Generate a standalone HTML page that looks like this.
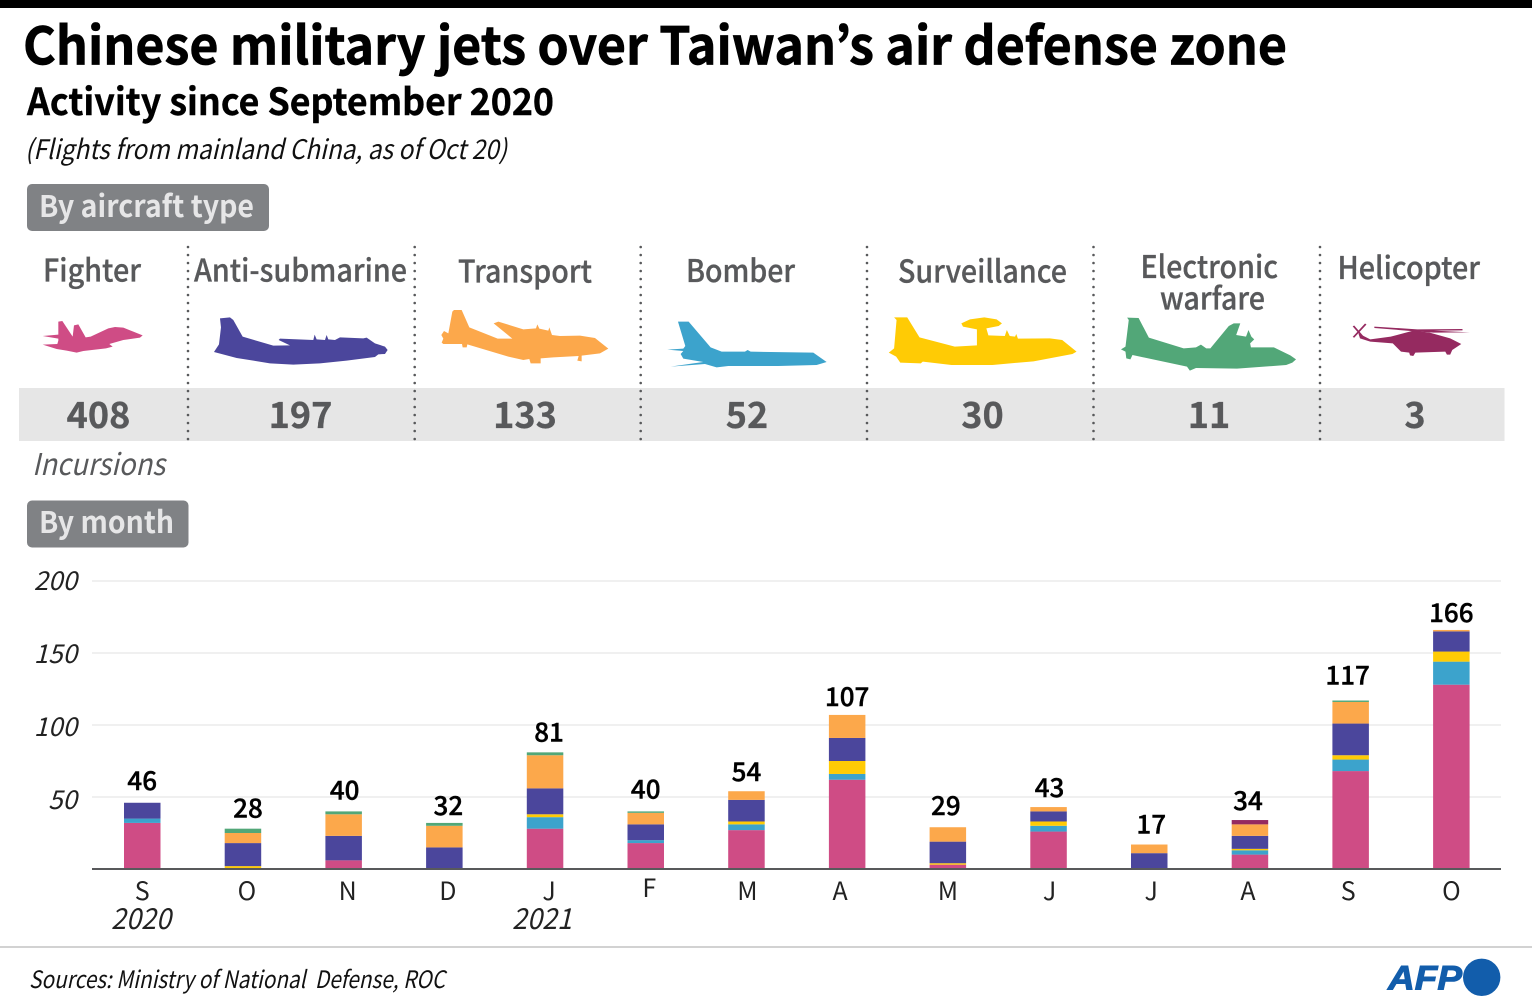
<!DOCTYPE html>
<html lang="en">
<head>
<meta charset="utf-8">
<title>Chinese military jets over Taiwan's air defense zone</title>
<style>
html,body{margin:0;padding:0;background:#fff;width:1532px;height:1008px;overflow:hidden}
svg{display:block}
text{font-family:"Noto Sans CJK JP","Liberation Sans",sans-serif}
.ital{font-style:italic;font-weight:400}
.lab{font-size:31px;font-weight:500;fill:#58595b;stroke:#58595b;stroke-width:.3px}
.num{font-size:36px;font-weight:700;fill:#58595b;stroke:#58595b;stroke-width:.3px;text-anchor:middle}
.tot{font-size:26px;font-weight:500;fill:#000;stroke:#000;stroke-width:.4px;text-anchor:middle}
.tick{font-size:25px;font-weight:400;fill:#222;text-anchor:middle}
.ytick{font-size:26px;font-style:italic;font-weight:400;fill:#222;text-anchor:end}
</style>
</head>
<body>
<svg id="root" xmlns="http://www.w3.org/2000/svg" width="1532" height="1008" viewBox="0 0 1532 1008">
<rect x="0" y="0" width="1532" height="1008" fill="#fff"/>
<rect x="0" y="0" width="1532" height="8" fill="#000"/>

<text x="23" y="64.500" font-size="52" font-weight="700" fill="#000" stroke="#000" stroke-width="0.7" textLength="1264" lengthAdjust="spacingAndGlyphs">Chinese military jets over Taiwan’s air defense zone</text>
<text x="27" y="115" font-size="37" font-weight="700" fill="#000" stroke="#000" stroke-width="0.4" textLength="527" lengthAdjust="spacingAndGlyphs">Activity since September 2020</text>
<text x="25" y="159" font-size="27" class="ital" fill="#111" textLength="482" lengthAdjust="spacingAndGlyphs">(Flights from mainland China, as of Oct 20)</text>

<g>
<rect x="27" y="184" width="242" height="47" rx="5" fill="#808285"/>
<text x="39" y="217" font-size="30" font-weight="700" fill="#e6e6e7" textLength="215" lengthAdjust="spacingAndGlyphs">By aircraft type</text>
</g>

<rect x="19" y="388" width="1485.500" height="53" fill="#e6e6e6"/>

<g stroke="#58595b" stroke-width="2.600" stroke-linecap="round" stroke-dasharray="0 8" fill="none">
<line x1="188" y1="247" x2="188" y2="441"/>
<line x1="414.700" y1="247" x2="414.700" y2="441"/>
<line x1="640.700" y1="247" x2="640.700" y2="441"/>
<line x1="867" y1="247" x2="867" y2="441"/>
<line x1="1093.500" y1="247" x2="1093.500" y2="441"/>
<line x1="1320" y1="247" x2="1320" y2="441"/>
</g>

<text x="43" y="281.500" class="lab" textLength="98" lengthAdjust="spacingAndGlyphs">Fighter</text>
<text x="194" y="281.500" class="lab" textLength="213" lengthAdjust="spacingAndGlyphs">Anti-submarine</text>
<text x="458" y="282.500" class="lab" textLength="134" lengthAdjust="spacingAndGlyphs">Transport</text>
<text x="686" y="282" class="lab" textLength="109" lengthAdjust="spacingAndGlyphs">Bomber</text>
<text x="898" y="282.500" class="lab" textLength="169" lengthAdjust="spacingAndGlyphs">Surveillance</text>
<text x="1140.500" y="278" class="lab" textLength="137.500" lengthAdjust="spacingAndGlyphs">Electronic</text>
<text x="1160" y="309.500" class="lab" textLength="105" lengthAdjust="spacingAndGlyphs">warfare</text>
<text x="1337.500" y="279" class="lab" textLength="142.500" lengthAdjust="spacingAndGlyphs">Helicopter</text>

<g transform="translate(20,240) scale(0.3333)">
<path fill="#cf4c85" d="M68,288 L115,284 L115,245 L127,243 L158,290 L162,256 L175,253 L197,292 L212,290 L265,265 L285,261 L310,263 L340,275 L368,286 L360,293 L310,300 L268,312 L278,320 L258,325 L190,333 L170,338 L140,332 L110,327 L68,314 L112,312 L115,302 L115,296 Z"/>
<path fill="#4b469c" d="M582,336 L597,313 L603,262 L600,235 L630,232 L640,240 L668,290 L760,317 L810,316 L776,300 L780,296 L880,300 L884,284 L890,298 L915,300 L920,285 L925,298 L945,300 L960,292 L1030,295 L1040,293 L1065,310 L1095,320 L1103,330 L1095,342 L1075,343 L1065,351 L980,362 L900,370 L820,374 L750,370 L650,354 Z"/>
</g>
<g transform="translate(420,240) scale(0.3333)">
<path fill="#fca84b" d="M65,308 L70,296 L64,285 L72,273 L85,280 L97,215 L102,210 L125,210 L148,262 L233,296 L277,296 L221,250 L235,245 L310,268 L348,265 L352,253 L358,266 L385,272 L388,262 L396,285 L420,288 L480,287 L525,294 L565,326 L540,340 L485,347 L485,364 L472,362 L476,348 L400,352 L362,355 L362,370 L332,370 L328,357 L310,360 L265,350 L142,313 L140,322 L128,322 L126,312 L70,312 Z"/>
<path fill="#3ca3cc" d="M742,329 L790,326 L796,318 L774,245 L806,245 L872,322 L905,335 L975,335 L983,330 L992,335 L1180,338 L1220,366 L1190,375 L1075,378 L925,378 L890,382 L855,372 L752,380 L820,370 L850,366 L790,356 L782,342 L790,333 Z"/>
</g>
<g transform="translate(869.500,240) scale(0.41,0.3333)">
<path fill="#ffcb05" d="M47,338 L60,325 L66,240 L60,232 L92,232 L122,292 L208,320 L262,316 L262,268 L228,260 L224,250 L245,238 L280,232 L310,238 L323,250 L315,258 L285,265 L290,286 L330,288 L335,270 L342,288 L355,290 L358,282 L362,296 L440,295 L470,300 L505,335 L495,342 L400,364 L300,375 L200,375 L130,365 L125,370 L75,368 L65,350 Z"/>
</g>
<g transform="translate(868,240) scale(0.41,0.3333)">
<path fill="#52a778" d="M617,328 L628,320 L636,240 L632,233 L660,234 L685,293 L770,325 L800,322 L812,314 L825,325 L835,325 L880,258 L892,250 L908,250 L898,285 L922,290 L928,270 L935,290 L942,298 L932,310 L934,322 L990,322 L1030,346 L1044,358 L1035,368 L1020,375 L900,386 L800,384 L785,392 L778,380 L645,345 L640,358 L630,355 L628,335 Z"/>
<g>
<path fill="#952a60" d="M1196,280 L1225,298 L1275,290 L1330,272 L1370,278 L1420,295 L1447,312 L1425,330 L1420,344 L1412,344 L1408,335 L1335,338 L1330,348 L1322,346 L1320,338 L1300,335 L1280,310 L1225,305 L1200,295 Z"/>
<path fill="#952a60" d="M1235,260 L1340,268 L1450,267 L1450,271 L1380,272 L1468,277 L1380,278 L1335,274 L1235,264 Z"/>
<path stroke="#952a60" stroke-width="4.500" fill="none" d="M1184,258 L1208,292 M1214,252 L1184,292"/>
</g>
</g>

<text x="98.500" y="428" class="num">408</text>
<text x="300.500" y="428" class="num">197</text>
<text x="525" y="428" class="num">133</text>
<text x="747" y="428" class="num">52</text>
<text x="982.500" y="428" class="num">30</text>
<text x="1209" y="428" class="num">11</text>
<text x="1415" y="428" class="num">3</text>

<text x="32" y="475" font-size="30" class="ital" fill="#58595b" textLength="133" lengthAdjust="spacingAndGlyphs">Incursions</text>

<g>
<rect x="27" y="500.500" width="161.500" height="47" rx="5" fill="#808285"/>
<text x="39" y="533" font-size="30" font-weight="700" fill="#e6e6e7" textLength="135" lengthAdjust="spacingAndGlyphs">By month</text>
</g>

<g id="chart"></g>

<text x="111" y="929" font-size="29" class="ital" fill="#222" textLength="60" lengthAdjust="spacingAndGlyphs">2020</text>
<text x="512" y="929" font-size="29" class="ital" fill="#222" textLength="60" lengthAdjust="spacingAndGlyphs">2021</text>

<rect x="0" y="946" width="1532" height="2" fill="#d2d2d2"/>
<text x="29" y="988" font-size="24" class="ital" fill="#111" xml:space="preserve" textLength="416" lengthAdjust="spacingAndGlyphs">Sources: Ministry of National  Defense, ROC</text>

<g>
<text x="1388" y="989.500" style="font-family:'Liberation Sans',sans-serif;font-style:italic;font-weight:700" font-size="34" fill="#125dab" stroke="#125dab" stroke-width="1" textLength="74" lengthAdjust="spacingAndGlyphs">AFP</text>
<circle cx="1481.700" cy="977.300" r="18.700" fill="#125dab"/>
</g>
</svg>

<script>
const categories = ["S","O","N","D","J","F","M","A","M","J","J","A","S","O"];
const totals = [46,28,40,32,81,40,54,107,29,43,17,34,117,166];
const yTicks = [50,100,150,200];
const fighter = [32,0,6,0,28,18,27,62,3,26,0,10,68,128];
const bomber = [3,0,0,0,8,2,4,4,0,4,0,3,8,16];
const surveillance = [0,2,0,0,2,0,2,9,1,3,0,1,3,7];
const antiSubmarine = [11,16,17,15,18,11,15,16,15,7,11,9,22,14];
const transport = [0,7,15,15,23,8,6,16,10,3,6,8,15,1];
const electronicWarfare = [0,3,2,2,2,1,0,0,0,0,0,0,1,0];
const helicopter = [0,0,0,0,0,0,0,0,0,0,0,3,0,0];

const NS = "http://www.w3.org/2000/svg";
const chart = document.getElementById("chart");
const BASE_Y = 869;
const PX_PER_UNIT = 1.44;
const BAR_W = 36.5;
const BAR_START = 124;
const BAR_STEP = 100.7;

function yScale(v){ return BASE_Y - v * PX_PER_UNIT; }
function xBand(i){ return BAR_START + i * BAR_STEP; }
function xCenter(i){ return xBand(i) + BAR_W / 2; }
function make(tag, parent){
  const el = document.createElementNS(NS, tag);
  parent.appendChild(el);
  return el;
}

/* hand-placed label offsets seen in the artwork (layout only) */
const tickShiftX = [0,4,4,3.5,4,3.5,1,-7,0,1,2,-2,-2.5,0];
const totalShiftX = [0,5,1,4,4,0,0,0,-2,1,2,-2,-3,0];
const totalGap = [13,11,12,8,11,13,10,9,12,10,11,10,16,8];

yTicks.forEach(function(t){
  const g = make("line", chart);
  g.setAttribute("x1", 92);
  g.setAttribute("x2", 1501);
  g.setAttribute("y1", yScale(t));
  g.setAttribute("y2", yScale(t));
  g.setAttribute("stroke", "#e6e6e6");
  g.setAttribute("stroke-width", "1.2");
  
  
  const l = make("text", chart);
  l.setAttribute("x", 77);
  l.setAttribute("y", yScale(t) + 9 + (200 - t) * 0.02);
  l.setAttribute("class", "ytick");
  l.textContent = t;
  
  
});

const seriesList = [
  {key:"fighter", values:fighter, color:"#cf4c85"},
  {key:"bomber", values:bomber, color:"#3ca3cc"},
  {key:"surveillance", values:surveillance, color:"#ffcb05"},
  {key:"anti-submarine", values:antiSubmarine, color:"#4b469c"},
  {key:"transport", values:transport, color:"#fca84b"},
  {key:"electronic-warfare", values:electronicWarfare, color:"#52a778"},
  {key:"helicopter", values:helicopter, color:"#952a60"}
];

categories.forEach(function(cat, i){
  let acc = 0;
  seriesList.forEach(function(s){
    const v = s.values[i];
    if (v > 0) {
      const r = make("rect", chart);
      r.setAttribute("x", xBand(i));
      r.setAttribute("y", yScale(acc + v));
      r.setAttribute("width", BAR_W);
      r.setAttribute("height", yScale(acc) - yScale(acc + v));
      r.setAttribute("fill", s.color);
      
      
    }
    acc += v;
  });
  const tot = make("text", chart);
  tot.setAttribute("x", xCenter(i) + totalShiftX[i]);
  tot.setAttribute("y", yScale(acc) - totalGap[i]);
  tot.setAttribute("class", "tot");
  tot.textContent = totals[i];
  
  
  const tk = make("text", chart);
  tk.setAttribute("x", xCenter(i) + tickShiftX[i]);
  tk.setAttribute("y", cat === "F" ? 897 : 900);
  tk.setAttribute("class", "tick");
  tk.textContent = cat;
  
  
});

const axis = make("line", chart);
axis.setAttribute("x1", 92);
axis.setAttribute("x2", 1501);
axis.setAttribute("y1", BASE_Y);
axis.setAttribute("y2", BASE_Y);
axis.setAttribute("stroke", "#58595b");
axis.setAttribute("stroke-width", "2");


</script>
</body>
</html>
